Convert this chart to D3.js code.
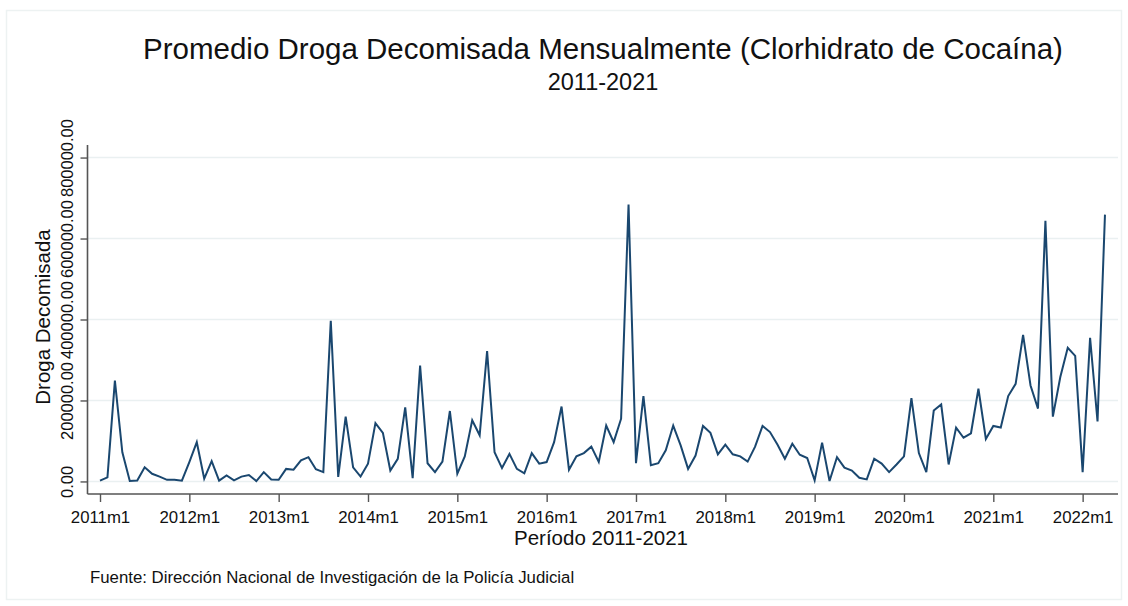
<!DOCTYPE html>
<html>
<head>
<meta charset="utf-8">
<script src="https://cdn.jsdelivr.net/npm/d3@7/dist/d3.min.js"></script>
<style>
  html, body { margin: 0; padding: 0; background: #ffffff; }
  svg { display: block; font-family: "Liberation Sans", Arial, sans-serif; }
</style>
</head>
<body>
<svg id="chart" width="1128" height="606"></svg>
<script>
// ---- Data (monthly, 2011m1 .. 2022m4) ----
const startYear = 2011;
const values = [
  2000, 10000, 249000, 72000, 1000, 2500, 35000, 19000, 12000, 4000, 4000, 2000,
  48000, 97000, 7000, 50000, 2000, 15000, 2500, 12000, 16000, 1000, 23000, 5000,
  4000, 31000, 29000, 52000, 60000, 30000, 23000, 397000, 11000, 160000, 35000, 12000,
  44000, 144000, 120000, 27000, 56000, 183000, 8000, 286000, 45000, 23000, 49000, 174000,
  19000, 62000, 151000, 114000, 322000, 72000, 33000, 68000, 31000, 20000, 70000, 44000,
  48000, 97000, 185000, 29000, 62000, 70000, 86000, 48000, 138000, 97000, 155000, 684000,
  45000, 211000, 40000, 45000, 77000, 138000, 89000, 31000, 64000, 137000, 120000, 67000,
  91000, 67000, 62000, 49000, 86000, 137000, 122000, 91000, 56000, 93000, 66000, 58000,
  2500, 96000, 1000, 60000, 34000, 27000, 9000, 5000, 56000, 44000, 23000, 42000,
  62000, 206000, 70000, 23000, 175000, 190000, 42000, 133000, 108000, 119000, 229000, 105000,
  137000, 133000, 211000, 241000, 362000, 237000, 180000, 644000, 160000, 258000, 330000, 310000,
  23000, 355000, 148000, 659000
];
const xTickIndex = [0, 12, 24, 36, 48, 60, 72, 84, 96, 108, 120, 132];
const xTickLabels = ["2011m1","2012m1","2013m1","2014m1","2015m1","2016m1","2017m1","2018m1","2019m1","2020m1","2021m1","2022m1"];
const yTicks = [0, 200000, 400000, 600000, 800000];
const yTickLabels = ["0.00", "200000.00", "400000.00", "600000.00", "800000.00"];

const titleText = "Promedio Droga Decomisada Mensualmente (Clorhidrato de Cocaína)";
const subtitleText = "2011-2021";
const yTitle = "Droga Decomisada";
const xTitle = "Período 2011-2021";
const noteText = "Fuente: Dirección Nacional de Investigación de la Policía Judicial";

(function () {
// ---- Layout ----
const svg = d3.select("#chart");
const pLeft = 87.5, pRight = 1118, pTop = 145, pBottom = 494;

const x = d3.scaleLinear().domain([-1.68, 136.75]).range([pLeft, pRight]);
const y = d3.scaleLinear().domain([-31000, 831000]).range([pBottom, pTop]);

// faint outer frame
svg.append("rect")
  .attr("x", 6.5).attr("y", 10.5).attr("width", 1115).attr("height", 589)
  .attr("fill", "#ffffff").attr("stroke", "#edf2f2").attr("stroke-width", 1.5);

// gridlines
svg.append("g").selectAll("line").data(yTicks).join("line")
  .attr("x1", pLeft).attr("x2", pRight)
  .attr("y1", d => y(d)).attr("y2", d => y(d))
  .attr("stroke", "#eaf0f1").attr("stroke-width", 1.6);

// line
const line = d3.line().x((d, i) => x(i)).y(d => y(d));
svg.append("path").datum(values)
  .attr("d", line)
  .attr("fill", "none")
  .attr("stroke", "#1a476f")
  .attr("stroke-width", 2)
  .attr("stroke-linejoin", "miter");

// y axis
const yAxis = d3.axisLeft(y).tickValues(yTicks).tickSize(7).tickPadding(0)
  .tickFormat((d, i) => yTickLabels[i]);
const gy = svg.append("g").attr("transform", `translate(${pLeft},0)`).call(yAxis);
gy.select(".domain").attr("d", `M0,${pTop}V${pBottom}`).attr("stroke", "#555").attr("stroke-width", 1.6);
gy.selectAll(".tick line").attr("stroke", "#555").attr("stroke-width", 1.4);
gy.selectAll(".tick text")
  .attr("transform", "rotate(-90)")
  .attr("x", 0).attr("y", -14.5).attr("dy", 0)
  .attr("text-anchor", "middle")
  .attr("fill", "#111")
  .style("font-size", "16.5px")
  .style("font-family", "'Liberation Sans', Arial, sans-serif");

// x axis
const xAxis = d3.axisBottom(x).tickValues(xTickIndex).tickSize(8).tickPadding(0)
  .tickFormat((d, i) => xTickLabels[i]);
const gx = svg.append("g").attr("transform", `translate(0,${pBottom})`).call(xAxis);
gx.select(".domain").attr("d", `M${pLeft},0H${pRight}`).attr("stroke", "#555").attr("stroke-width", 1.6);
gx.selectAll(".tick line").attr("stroke", "#555").attr("stroke-width", 1.4);
gx.selectAll(".tick text")
  .attr("y", 29).attr("dy", 0)
  .attr("fill", "#111")
  .style("font-size", "16.8px")
  .style("font-family", "'Liberation Sans', Arial, sans-serif");

// titles
svg.append("text").attr("x", 603).attr("y", 59)
  .attr("text-anchor", "middle").attr("fill", "#111")
  .style("font-size", "29.5px").text(titleText);
svg.append("text").attr("x", 603).attr("y", 90)
  .attr("text-anchor", "middle").attr("fill", "#111")
  .style("font-size", "23.5px").text(subtitleText);

svg.append("text")
  .attr("transform", `translate(50,317) rotate(-90)`)
  .attr("text-anchor", "middle").attr("fill", "#111")
  .style("font-size", "20.5px").text(yTitle);

svg.append("text").attr("x", 601).attr("y", 545)
  .attr("text-anchor", "middle").attr("fill", "#111")
  .style("font-size", "20.5px").text(xTitle);

svg.append("text").attr("x", 90).attr("y", 583)
  .attr("fill", "#111")
  .style("font-size", "16.8px").text(noteText);
})();
</script>
</body>
</html>
